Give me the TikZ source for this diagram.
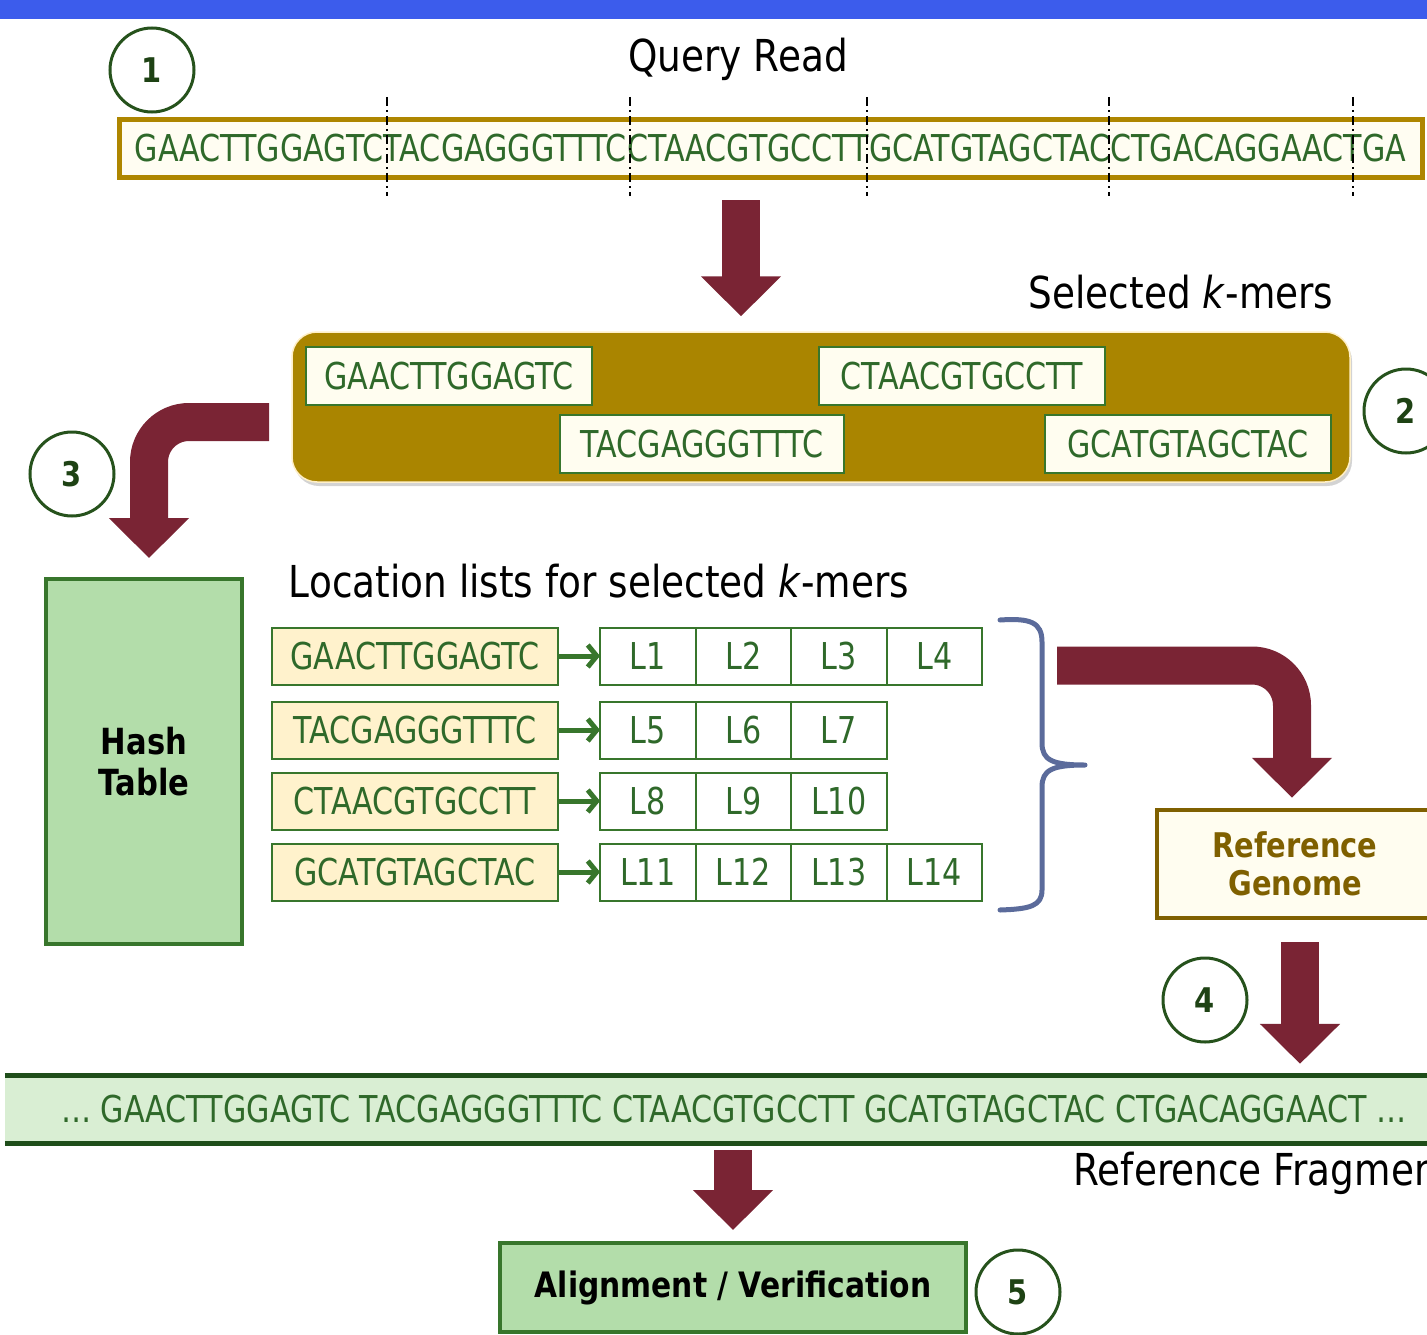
\documentclass[tikz,border=0pt]{standalone}
\usepackage{fontspec}
\setmainfont{DejaVu Sans}[FakeStretch=0.85]
\newfontfamily\dnafont{DejaVu Sans}[FakeStretch=0.815]
\usetikzlibrary{arrows.meta,positioning,shadows}
\definecolor{topblue}{RGB}{60,92,236}
\definecolor{arrowred}{RGB}{122,36,52}
\definecolor{dnagreen}{RGB}{47,105,42}
\definecolor{boxgreen}{RGB}{56,118,44}
\definecolor{numgreen}{RGB}{38,82,28}
\definecolor{numtext}{RGB}{30,66,20}
\definecolor{qgold}{RGB}{174,134,0}
\definecolor{qfill}{RGB}{255,253,242}
\definecolor{panelgold}{RGB}{170,133,0}
\definecolor{paneledge}{RGB}{255,240,200}
\definecolor{kmerfill}{RGB}{255,253,240}
\definecolor{keyfill}{RGB}{255,242,204}
\definecolor{hashfill}{RGB}{179,221,170}
\definecolor{fragfill}{RGB}{217,238,211}
\definecolor{fragline}{RGB}{31,78,26}
\definecolor{genome}{RGB}{127,96,0}
\definecolor{bracecol}{RGB}{91,107,155}

\begin{document}
\begin{tikzpicture}[
    x=1pt, y=-1pt,
    seq/.style={font=\dnafont\fontsize{37}{42}\selectfont, text=dnagreen},
    title/.style={font=\fontsize{44}{50}\selectfont, text=black, anchor=base},
    kmer/.style={seq, draw=boxgreen, line width=2.5pt, fill=kmerfill, minimum width=286pt, minimum height=58pt, inner sep=0pt},
    listkey/.style={seq, draw=boxgreen, line width=2pt, fill=keyfill, minimum width=286pt, minimum height=57pt, inner sep=0pt},
    cell/.style={seq, draw=boxgreen, line width=2pt, fill=white, minimum width=95.5pt, minimum height=57pt, inner sep=0pt, outer sep=0pt},
    stepnum/.style={circle, draw=numgreen, line width=3pt, minimum size=84pt, inner sep=0pt, text=numtext, font=\fontsize{34}{40}\selectfont\bfseries},
    bigarrow/.style={draw=arrowred, line width=38pt, -{Triangle[width=78pt,length=40pt]}},
    smallarrow/.style={draw=boxgreen, line width=5pt, -{Straight Barb[length=9pt,width=22pt]}},
    cut/.style={line width=2.5pt, dash pattern=on 9pt off 4pt on 2pt off 4pt}
  ]
\useasboundingbox (0,0) rectangle (1427,1335);
\fill[topblue] (0,0) rectangle (1427,19);

% query read
\node[stepnum] (n1) at (152,70) {1};
\node[title] (qtitle) at (738,72) {Query Read};
\node[seq, draw=qgold, line width=5pt, fill=qfill, minimum width=1303pt, minimum height=57pt, inner sep=0pt] (query) at (770.5,148.5) {GAACTTGGAGTCTACGAGGGTTTCCTAACGTGCCTTGCATGTAGCTACCTGACAGGAACTGA};
\foreach \x in {387,630,867,1109,1353}
  \draw[cut] (\x,97) -- (\x,196);

% selected k-mers
\node[title] (stitle) at (1181,308) {Selected \textit{k}-mers};
\node[draw=paneledge, line width=1.5pt, fill=panelgold, rounded corners=25pt, minimum width=1058pt, minimum height=150pt,
      drop shadow={opacity=0.35, shadow xshift=2pt, shadow yshift=-4pt}] (panel) at (821,407) {};
\node[kmer] (s1) at (449,376) {GAACTTGGAGTC};
\node[kmer] (s2) at (962,376) {CTAACGTGCCTT};
\node[kmer, minimum width=284pt] (s3) at (702,444) {TACGAGGGTTTC};
\node[kmer] (s4) at (1188,444) {GCATGTAGCTAC};
\node[stepnum] (n2) at (1406,411) {2};

\coordinate (a1) at (741,200);
\draw[bigarrow, shorten >=15pt] (a1) -- (a1 |- panel.north);

% hash table
\node[stepnum] (n3) at (72,474) {3};
\node[draw=boxgreen, line width=4pt, fill=hashfill, minimum width=196pt, minimum height=365pt, align=center,
      font=\fontsize{36}{41}\selectfont\bfseries] (hash) at (144,761.5) {Hash\\Table};
\coordinate (a3) at (269,422);
\draw[bigarrow, rounded corners=40pt, shorten >=19pt] (a3) -| ([xshift=5pt]hash.north);

% location lists
\node[title] (ltitle) at (599,597) {Location lists for selected \textit{k}-mers};

\node[listkey] (k1) at (415,656) {GAACTTGGAGTC};
\node[cell] (l1) at (647.75,656) {L1};
\node[cell, right=0pt of l1] (l2) {L2};
\node[cell, right=0pt of l2] (l3) {L3};
\node[cell, right=0pt of l3] (l4) {L4};

\node[listkey] (k2) at (415,730) {TACGAGGGTTTC};
\node[cell] (l5) at (647.75,730) {L5};
\node[cell, right=0pt of l5] (l6) {L6};
\node[cell, right=0pt of l6] (l7) {L7};

\node[listkey] (k3) at (415,801) {CTAACGTGCCTT};
\node[cell] (l8) at (647.75,801) {L8};
\node[cell, right=0pt of l8] (l9) {L9};
\node[cell, right=0pt of l9] (l10) {L10};

\node[listkey] (k4) at (415,872) {GCATGTAGCTAC};
\node[cell] (l11) at (647.75,872) {L11};
\node[cell, right=0pt of l11] (l12) {L12};
\node[cell, right=0pt of l12] (l13) {L13};
\node[cell, right=0pt of l13] (l14) {L14};

\draw[smallarrow] (k1) -- (l1);
\draw[smallarrow] (k2) -- (l5);
\draw[smallarrow] (k3) -- (l8);
\draw[smallarrow] (k4) -- (l11);

% brace
\draw[bracecol, line width=5pt, line cap=round, line join=round]
  (1000,620) .. controls (1030,618) and (1042,622) .. (1042,642) -- (1042,743)
  .. controls (1042,760) and (1052,765) .. (1085,765)
  .. controls (1052,765) and (1042,770) .. (1042,787) -- (1042,890)
  .. controls (1042,906) and (1030,909) .. (1000,910);

% reference genome
\node[draw=genome, line width=4.5pt, fill=kmerfill, minimum width=276pt, minimum height=108pt, align=center,
      text=genome, font=\fontsize{34}{38}\selectfont\bfseries] (refg) at (1295,864) {Reference\\Genome};
\coordinate (a4) at (1057,665.5);
\draw[bigarrow, rounded corners=40pt, shorten >=10pt] (a4) -| ([xshift=-3pt]refg.north);

\node[stepnum] (n4) at (1205,1000) {4};

% reference fragment
\node[seq, fill=fragfill, minimum width=1458pt, minimum height=67pt, inner sep=0pt] (frag) at (734,1109.5)
  {… GAACTTGGAGTC TACGAGGGTTTC CTAACGTGCCTT GCATGTAGCTAC CTGACAGGAACT …};
\draw[fragline, line width=5pt] (frag.north west) -- (frag.north east);
\draw[fragline, line width=5pt] (frag.south west) -- (frag.south east);
\draw[bigarrow, shorten <=22pt, shorten >=12pt] ([xshift=5pt]refg.south) -- ([xshift=5pt]refg.south |- frag.north);
\node[title, anchor=base west] (ftitle) at (1070,1185) {Reference Fragment};

% alignment
\node[draw=boxgreen, line width=4pt, fill=hashfill, minimum width=466pt, minimum height=89pt,
      font=\fontsize{35}{40}\selectfont\bfseries] (align) at (733,1287.5) {Alignment / Verification};
\draw[bigarrow, shorten <=7pt, shorten >=11pt] (align.north |- frag.south) -- (align.north);
\node[stepnum] (n5) at (1018,1292) {5};
\end{tikzpicture}
\end{document}
